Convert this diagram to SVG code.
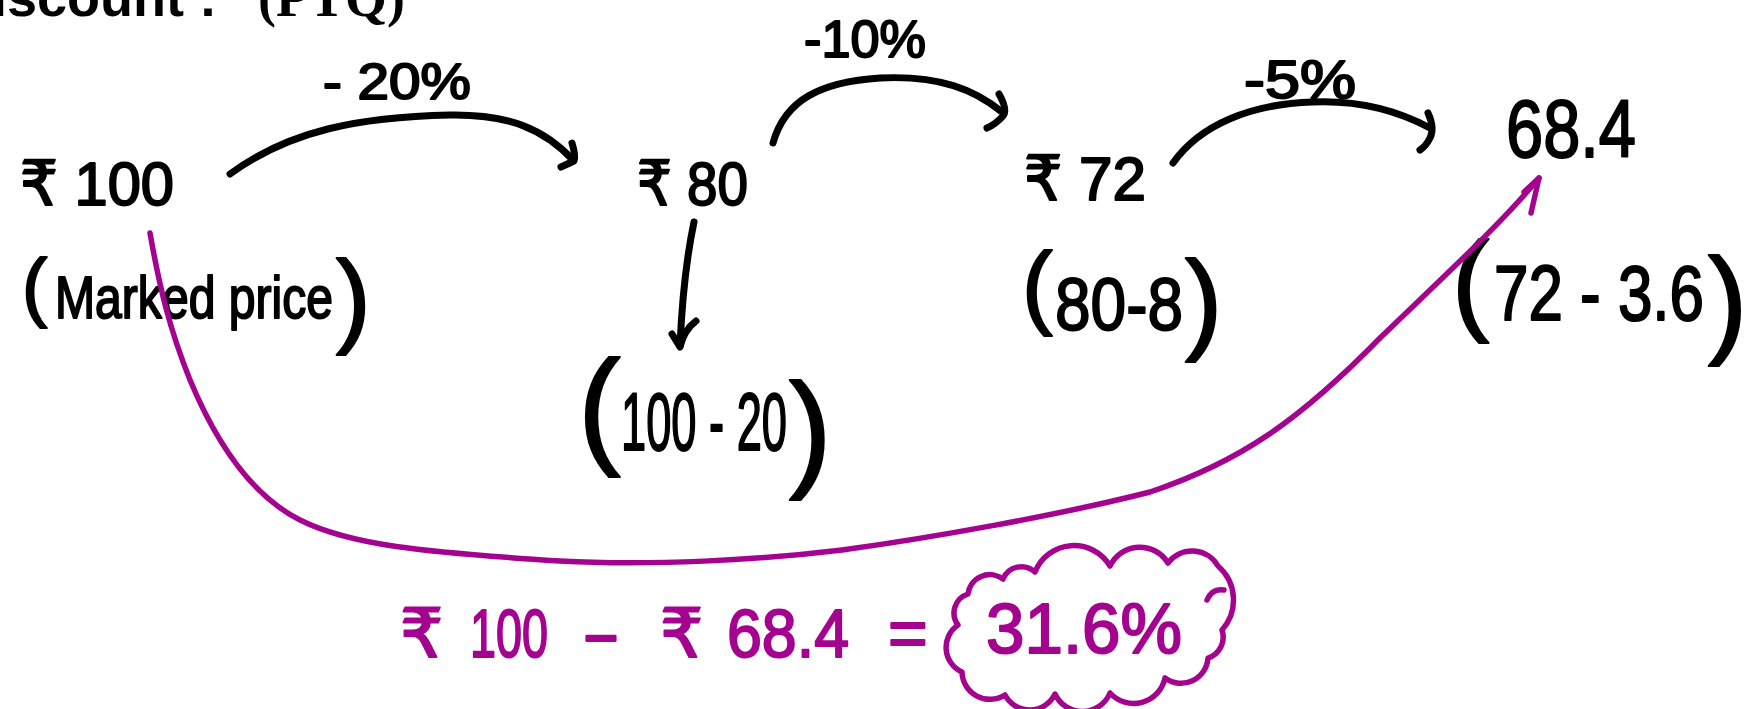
<svg xmlns="http://www.w3.org/2000/svg" width="1760" height="709" viewBox="0 0 1760 709">
<style>
.hw{font-family:"Liberation Sans","DejaVu Sans","Noto Sans",sans-serif;fill:#000;stroke:#000;stroke-width:2;stroke-linejoin:round;}
.pu{font-family:"Liberation Sans","DejaVu Sans","Noto Sans",sans-serif;fill:#a4038f;stroke:#a4038f;stroke-width:2;stroke-linejoin:round;}
.bk{fill:none;stroke:#000;stroke-width:7;stroke-linecap:round;stroke-linejoin:round;}
.pl{fill:none;stroke:#a4038f;stroke-width:5.5;stroke-linecap:round;stroke-linejoin:round;}
</style>
<rect width="1760" height="709" fill="#fff"/>
<g id="title">
<text y="16" font-weight="bold" font-size="54" fill="#000"><tspan x="-8" font-family="Liberation Sans, sans-serif">iscount : </tspan><tspan x="258" font-family="Liberation Serif, serif">(PTQ)</tspan></text>
</g>
<g id="node-100">
<text class="hw" x="20" y="205" font-size="62" textLength="154" lengthAdjust="spacingAndGlyphs">₹ 100</text>
<text class="hw"><tspan x="22" y="312" font-size="76">(</tspan><tspan x="55" y="318" font-size="60" textLength="278" lengthAdjust="spacingAndGlyphs">Marked price</tspan><tspan x="336" y="333" font-size="104">)</tspan></text>
</g>
<g id="node-80">
<text class="hw" x="637" y="205" font-size="62" textLength="111" lengthAdjust="spacingAndGlyphs">₹ 80</text>
<text class="hw"><tspan x="578" y="450" font-size="128">(</tspan><tspan x="621" y="450" font-size="82" textLength="166" lengthAdjust="spacingAndGlyphs">100 - 20</tspan><tspan x="789" y="473" font-size="128">)</tspan></text>
</g>
<g id="node-72">
<text class="hw" x="1024" y="200" font-size="62" textLength="122" lengthAdjust="spacingAndGlyphs">₹ 72</text>
<text class="hw"><tspan x="1022" y="317" font-size="92">(</tspan><tspan x="1055" y="330" font-size="74" textLength="128" lengthAdjust="spacingAndGlyphs">80-8</tspan><tspan x="1185" y="339" font-size="112">)</tspan></text>
</g>
<g id="node-68">
<text class="hw" x="1506" y="157" font-size="82" textLength="130" lengthAdjust="spacingAndGlyphs">68.4</text>
<text class="hw"><tspan x="1452" y="320" font-size="112">(</tspan><tspan x="1494" y="320" font-size="78" textLength="210" lengthAdjust="spacingAndGlyphs">72 - 3.6</tspan><tspan x="1708" y="341" font-size="118">)</tspan></text>
</g>
<g id="result">
<text class="pu" y="657" font-size="68"><tspan x="400">₹</tspan><tspan> </tspan><tspan x="470" textLength="78" lengthAdjust="spacingAndGlyphs">100</tspan><tspan> </tspan><tspan x="582" textLength="38" lengthAdjust="spacingAndGlyphs">-</tspan><tspan> </tspan><tspan x="660">₹</tspan><tspan> </tspan><tspan x="727" textLength="122" lengthAdjust="spacingAndGlyphs">68.4</tspan><tspan> </tspan><tspan x="888">=</tspan></text>
<path class="pl" d="M 958,625 A 20 20 0 0 1 968,594 A 22 22 0 0 1 1003,579 A 20 20 0 0 1 1035,572 A 42 42 0 0 1 1110,566 A 33 33 0 0 1 1168,563 A 30 30 0 0 1 1218,566 A 45 45 0 0 1 1222,630 A 22 22 0 0 1 1208,658 A 27 27 0 0 1 1165,678 A 32 32 0 0 1 1110,693 A 30 30 0 0 1 1055,694 A 28 28 0 0 1 1005,695 A 28 28 0 0 1 962,672 A 27 27 0 0 1 958,625 Z"/>
<path class="pl" d="M 1207,600 Q 1212,588 1224,590"/>
<text class="pu" x="986" y="653" font-size="70" textLength="196" lengthAdjust="spacingAndGlyphs">31.6%</text>
</g>
<g id="connectors">
<path class="bk" d="M 230,174 C 290,130 360,117 450,115 C 510,114 545,130 573,160"/>
<path class="bk" d="M 572,143 Q 576,156 574,161 L 561,167"/>
<text class="hw" x="323" y="99" font-size="50" textLength="148" lengthAdjust="spacingAndGlyphs">- 20%</text>
<path class="bk" d="M 773,143 C 785,100 820,82 880,78 C 940,75 975,90 1002,112"/>
<path class="bk" d="M 999,94 Q 1008,110 1003,116 Q 996,124 987,128"/>
<text class="hw" x="804" y="57" font-size="52" textLength="122" lengthAdjust="spacingAndGlyphs">-10%</text>
<path class="bk" d="M 1173,163 C 1200,125 1250,104 1313,102 C 1360,100 1400,112 1430,128"/>
<path class="bk" d="M 1428,113 Q 1435,128 1430,138 Q 1426,146 1420,150"/>
<text class="hw" x="1244" y="98" font-size="54" textLength="112" lengthAdjust="spacingAndGlyphs">-5%</text>
<path class="bk" d="M 694,222 C 686,260 682,300 680,346"/>
<path class="bk" d="M 672,334 L 680,347 Q 684,330 696,321"/>
<path class="pl" d="M 150,233 C 160,290 170,330 190,380 C 215,440 250,495 300,520 C 350,545 420,552 560,561 C 650,566 760,560 842,550 C 930,538 1060,515 1150,492 C 1240,462 1300,420 1381,337 C 1440,280 1500,225 1539,178"/>
<path class="pl" d="M 1524,192 L 1539,178 L 1531,213"/>
</g>
</svg>
